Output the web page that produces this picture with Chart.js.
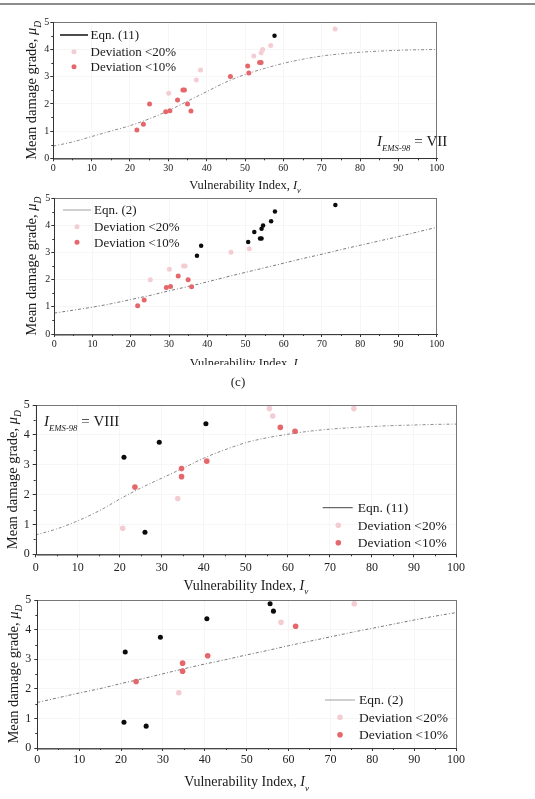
<!DOCTYPE html>
<html><head><meta charset="utf-8">
<script src="https://cdn.jsdelivr.net/npm/chart.js@4.4.0/dist/chart.umd.min.js"></script>
<style>
html,body{margin:0;padding:0;background:#fff;}
body{width:535px;height:799px;position:relative;overflow:hidden;}
canvas{position:absolute;left:0;}
#rule{position:absolute;left:0;top:3px;width:535px;height:2px;background:#8c8c8c;}
</style></head><body>
<div id="rule"></div>
<canvas id="c1" width="535" height="196" style="top:0px"></canvas>
<canvas id="c2" width="535" height="175" style="top:190px"></canvas>
<canvas id="c3" width="535" height="222" style="top:372px"></canvas>
<canvas id="c4" width="535" height="209" style="top:590px"></canvas>
<script>
// ---------- DATA ----------
// I_EMS-98 = VII : observed buildings
const IV_VII  = [21.8,23.5,25.1,29.3,30.4,30.1,32.4,33.8,34.2,35.0,35.9,37.3,38.4,46.2,50.7,51.0,52.3,53.8,54.2,54.2,54.6,56.7,57.7,73.5];
const MUD_VII = [1.04,1.25,2.00,1.71,1.75,2.39,2.14,2.51,2.51,2.00,1.74,2.88,3.25,3.01,3.39,3.14,3.76,3.52,3.52,3.88,4.00,4.15,4.51,4.75];
// deviation class: 'r' <10%, 'p' <20%, 'k' beyond
const CLASS_VII_EQ11 = ['r','r','r','r','r','p','r','r','r','r','r','p','p','r','r','r','p','r','r','p','p','p','k','p'];
const CLASS_VII_EQ2  = ['r','r','p','r','r','p','r','p','p','r','r','k','k','p','k','p','k','k','k','k','k','k','k','k'];
// I_EMS-98 = VIII
const IV_VIII  = [20.7,21.0,23.6,26.0,29.4,33.8,34.7,34.7,40.5,40.7,55.6,56.4,58.2,61.7,75.7];
const MUD_VIII = [0.87,3.25,2.25,0.74,3.75,1.87,2.87,2.60,4.37,3.12,4.88,4.63,4.25,4.12,4.88];
const CLASS_VIII_EQ11 = ['p','k','r','k','k','p','r','r','k','r','p','p','r','r','p'];
const CLASS_VIII_EQ2  = ['k','k','r','k','k','p','r','r','k','r','k','k','p','r','p'];
// model curves
const CURVE_IV  = [0,5,10,15,20,25,30,35,40,45,50,55,60,65,70,75,80,85,90,95,100];
const EQ11_VII  = [0.45,0.60,0.80,1.00,1.20,1.45,1.75,2.10,2.45,2.80,3.08,3.30,3.49,3.64,3.76,3.84,3.90,3.94,3.97,3.99,4.00];
const EQ2_VII   = [0.77,0.88,0.99,1.12,1.27,1.42,1.59,1.75,1.92,2.10,2.27,2.44,2.61,2.78,2.94,3.11,3.27,3.43,3.59,3.76,3.93];
const EQ11_VIII = [0.65,0.85,1.12,1.45,1.85,2.22,2.55,2.88,3.22,3.50,3.74,3.90,4.02,4.12,4.19,4.24,4.28,4.31,4.33,4.35,4.36];
const EQ2_VIII  = [1.54,1.70,1.86,2.01,2.18,2.34,2.51,2.68,2.84,2.99,3.15,3.30,3.46,3.61,3.76,3.91,4.05,4.19,4.33,4.46,4.58];
const X_MIN = 0, X_MAX = 100, X_STEP = 10;
const Y_MIN = 0, Y_MAX = 5, Y_STEP = 1;
const LEG_20 = 'Deviation <20%';
const LEG_10 = 'Deviation <10%';

// ---------- STYLE ----------
const FAM = "'Liberation Serif','Times New Roman',serif";
const COL = {p:'#f4cdd3', r:'#e5676c', k:'#0b0b0b'};

function drawRich(ctx, segs, x, y, size, align){
  let total = 0;
  const parts = segs.map(s=>{
    const fs = s.fs || (s.sub ? size*0.66 : size);
    const font = (s.it?'italic ':'') + fs + 'px ' + FAM;
    ctx.font = font;
    const w = ctx.measureText(s.t).width;
    total += w;
    return {s, font, w};
  });
  let cx = align === 'center' ? x - total/2 : x;
  ctx.textAlign = 'left'; ctx.textBaseline = 'alphabetic';
  parts.forEach(p=>{
    ctx.font = p.font;
    ctx.fillText(p.s.t, cx, y + (p.s.sub ? (p.s.dy || size*0.3) : 0));
    cx += p.w;
  });
}

const decor = {
  id:'decor',
  afterDraw(chart){
    const o = chart.options.plugins.decor;
    const ctx = chart.ctx;
    const a = chart.chartArea;
    const xs = chart.scales.x, ys = chart.scales.y;
    ctx.save();
    // minor ticks
    ctx.strokeStyle = '#333'; ctx.lineWidth = 1;
    ctx.beginPath();
    for (let v = X_MIN + X_STEP/2; v < X_MAX; v += X_STEP){
      const px = Math.round(xs.getPixelForValue(v)) + 0.5;
      ctx.moveTo(px, a.bottom); ctx.lineTo(px, a.bottom + 2);
    }
    for (let v = Y_MIN + Y_STEP/2; v < Y_MAX; v += Y_STEP){
      const py = Math.round(ys.getPixelForValue(v)) + 0.5;
      ctx.moveTo(a.left - 2, py); ctx.lineTo(a.left, py);
    }
    ctx.stroke();
    // frame
    ctx.strokeStyle = '#777';
    ctx.strokeRect(Math.round(a.left)+0.5, Math.round(a.top)+0.5, Math.round(a.right-a.left), Math.round(a.bottom-a.top));
    ctx.strokeStyle = '#333';
    ctx.beginPath();
    ctx.moveTo(Math.round(a.left)+0.5, Math.round(a.top)); ctx.lineTo(Math.round(a.left)+0.5, Math.round(a.bottom)+1);
    ctx.lineTo(Math.round(a.right)+1, Math.round(a.bottom)+0.5);
    ctx.stroke();
    ctx.fillStyle = '#1a1a1a';
    // y title
    ctx.save();
    ctx.translate(o.yTitleX, (a.top + a.bottom)/2);
    ctx.rotate(-Math.PI/2);
    drawRich(ctx, [{t:'Mean damage grade, '},{t:'\u03bc',it:true},{t:'D',it:true,sub:true}], 0, o.yTitleSize*0.33, o.yTitleSize, 'center');
    ctx.restore();
    // x title
    drawRich(ctx, [{t:'Vulnerability Index, '},{t:'I',it:true},{t:'v',it:true,sub:true}], (a.left+a.right)/2, o.xTitleY + o.xTitleSize*0.33, o.xTitleSize, 'center');
    // legend
    const L = o.legend;
    ctx.strokeStyle = L.lineColor; ctx.lineWidth = L.lineWidth;
    ctx.beginPath(); ctx.moveTo(L.x0, L.y0); ctx.lineTo(L.x1, L.y0); ctx.stroke();
    ctx.fillStyle = '#1a1a1a';
    drawRich(ctx, [{t:L.label}], L.tx, L.y0 + L.size*0.33, L.size, 'left');
    [[COL.p, LEG_20, L.ym[0]], [COL.r, LEG_10, L.ym[1]]].forEach(([c,t,y])=>{
      ctx.fillStyle = c; ctx.beginPath(); ctx.arc(L.mx, y, o.r, 0, Math.PI*2); ctx.fill();
      ctx.fillStyle = '#1a1a1a';
      drawRich(ctx, [{t}], L.tx, y + L.size*0.33, L.size, 'left');
    });
    // note
    if (o.note){
      const n = o.note;
      drawRich(ctx, [{t:'I',it:true,fs:n.size},{t:'EMS-98',it:true,sub:true,fs:n.size*0.58,dy:n.size*0.33},{t:' = '+n.level,fs:n.size}], n.x, n.y, n.size, 'left');
    }
    if (o.caption){
      drawRich(ctx, [{t:o.caption.t}], o.caption.x, o.caption.y + 13*0.33, 13, 'center');
    }
    ctx.restore();
  }
};

function makePanel(id, p){
  const cv = document.getElementById(id);
  const W = cv.width, H = cv.height;
  const yW = p.yW, xH = p.xH;
  const groups = {p:{x:[],y:[]}, r:{x:[],y:[]}, k:{x:[],y:[]}};
  p.cls.forEach((c,i)=>{ groups[c].x.push(p.iv[i]); groups[c].y.push(p.mud[i]); });
  const pts = k => groups[k].x.map((x,i)=>({x, y:groups[k].y[i]}));
  const datasets = [
    {label:'k', data:pts('k'), backgroundColor:COL.k, borderWidth:0, pointRadius:p.r*0.9, order:1},
    {label:'r', data:pts('r'), backgroundColor:COL.r, borderWidth:0, pointRadius:p.r, order:2},
    {label:'p', data:pts('p'), backgroundColor:COL.p, borderWidth:0, pointRadius:p.r, order:3},
    {label:p.legend.label, data:CURVE_IV.map((x,i)=>({x, y:p.curve[i]})), showLine:true, pointRadius:0,
     borderColor:p.curveColor, borderWidth:1, borderDash:[3,2,1,2], cubicInterpolationMode:'monotone', order:4}
  ];
  new Chart(cv, {
    type:'scatter',
    data:{datasets},
    options:{
      responsive:false, animation:false, devicePixelRatio:1,
      layout:{padding:{left:p.area.l - yW, right:W - p.area.r, top:p.area.t, bottom:H - p.area.b - xH}},
      plugins:{legend:{display:false}, tooltip:{enabled:false}, decor:p.decor},
      scales:{
        x:{type:'linear', min:X_MIN, max:X_MAX,
           ticks:{stepSize:X_STEP, autoSkip:false, maxRotation:0, padding:p.tickPad[0], color:'#222', font:{family:FAM, size:p.tickSize}},
           grid:{color:'#f6f6f6', tickColor:'#333', tickLength:3, drawOnChartArea:true},
           border:{display:false},
           afterFit(s){ s.height = xH; }},
        y:{type:'linear', min:Y_MIN, max:Y_MAX,
           ticks:{stepSize:Y_STEP, autoSkip:false, padding:p.tickPad[1], color:'#222', font:{family:FAM, size:p.tickSize}},
           grid:{color:'#f6f6f6', tickColor:'#333', tickLength:3, drawOnChartArea:true},
           border:{display:false},
           afterFit(s){ s.width = yW; }}
      }
    },
    plugins:[decor]
  });
}

makePanel('c1', {
  area:{l:53.3, r:436.7, t:22.3, b:158.3}, yW:14, xH:17, tickSize:10, tickPad:[1,1], r:2.5,
  iv:IV_VII, mud:MUD_VII, cls:CLASS_VII_EQ11, curve:EQ11_VII, curveColor:'#8a8a8a',
  legend:{label:'Eqn. (11)'},
  decor:{r:2.5, yTitleX:31.7, yTitleSize:14.5, xTitleY:185, xTitleSize:12.5,
    legend:{label:'Eqn. (11)', x0:60, x1:88, y0:35, lineColor:'#111', lineWidth:1.5, tx:90.5, mx:74, ym:[51.7,66.7], size:13},
    note:{x:377, y:146, size:15, level:'VII'}}
});
makePanel('c2', {
  area:{l:54.3, r:436.7, t:8.3, b:144}, yW:14, xH:17, tickSize:10, tickPad:[1,1], r:2.5,
  iv:IV_VII, mud:MUD_VII, cls:CLASS_VII_EQ2, curve:EQ2_VII, curveColor:'#7a7a7a',
  legend:{label:'Eqn. (2)'},
  decor:{r:2.5, yTitleX:31.7, yTitleSize:14.5, xTitleY:173, xTitleSize:12.5,
    legend:{label:'Eqn. (2)', x0:63, x1:91, y0:20, lineColor:'#a0a0a0', lineWidth:1, tx:94, mx:77, ym:[36.7,52.3], size:13}}
});
makePanel('c3', {
  area:{l:35.7, r:456, t:33, b:182.3}, yW:13, xH:18, tickSize:12, tickPad:[3,3], r:2.8,
  iv:IV_VIII, mud:MUD_VIII, cls:CLASS_VIII_EQ11, curve:EQ11_VIII, curveColor:'#8a8a8a',
  legend:{label:'Eqn. (11)'},
  decor:{r:2.8, yTitleX:12, yTitleSize:14.5, xTitleY:213, xTitleSize:14,
    legend:{label:'Eqn. (11)', x0:322.7, x1:352.7, y0:135.7, lineColor:'#444', lineWidth:1, tx:357.7, mx:338.3, ym:[153.3,170.7], size:13.5},
    note:{x:44, y:54, size:15, level:'VIII'},
    caption:{t:'(c)', x:238, y:10}}
});
makePanel('c4', {
  area:{l:37.3, r:456, t:9.3, b:158}, yW:13, xH:18, tickSize:12, tickPad:[2,3], r:2.8,
  iv:IV_VIII, mud:MUD_VIII, cls:CLASS_VIII_EQ2, curve:EQ2_VIII, curveColor:'#7a7a7a',
  legend:{label:'Eqn. (2)'},
  decor:{r:2.8, yTitleX:13, yTitleSize:14.5, xTitleY:191.7, xTitleSize:14,
    legend:{label:'Eqn. (2)', x0:325, x1:355, y0:110, lineColor:'#a0a0a0', lineWidth:1, tx:359, mx:340, ym:[127.3,144.7], size:13.5}}
});
</script>
</body></html>
